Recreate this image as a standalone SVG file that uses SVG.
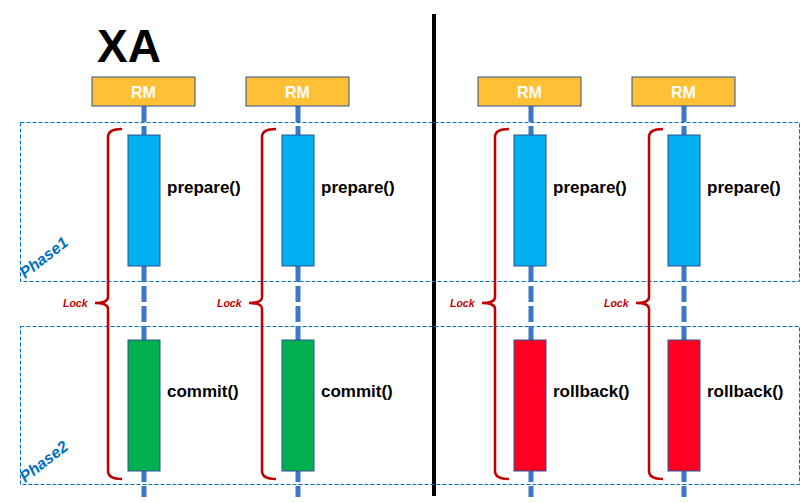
<svg xmlns="http://www.w3.org/2000/svg" width="800" height="503" viewBox="0 0 800 503">
<style>
.phase{fill:none;stroke:#0070C0;stroke-width:1;stroke-dasharray:4 2}
.life{stroke:#3C78C8;stroke-width:5;stroke-dasharray:16 4}
.rm rect{fill:#FFC035;stroke:#2F528F;stroke-width:1}
.rm text{font-family:"Liberation Sans",Arial,sans-serif;font-weight:bold;font-size:16px;fill:#fff;text-anchor:middle}
.bar{stroke:#2F528F;stroke-width:1}
.lbl{font-family:"Liberation Sans",Arial,sans-serif;font-weight:bold;font-size:17px;fill:#000}
.brace{fill:none;stroke:#C00000;stroke-width:2.5}
.lock{font-family:"Liberation Sans",Arial,sans-serif;font-weight:bold;font-style:italic;font-size:10.5px;fill:#C00000}
.ph{font-family:"Liberation Sans",Arial,sans-serif;font-weight:bold;font-style:italic;font-size:16px;fill:#0070C0}
</style>
<rect width="800" height="503" fill="#fff"/>
<text x="97" y="62" font-family="Liberation Sans,Arial,sans-serif" font-weight="bold" font-size="46">XA</text>
<line x1="434" y1="14" x2="434" y2="496" stroke="#000" stroke-width="4"/>
<rect class="phase" x="20.5" y="122.5" width="779" height="159"/>
<rect class="phase" x="20.5" y="326.5" width="779" height="158"/>
<text class="ph" transform="translate(25,279) rotate(-38)">Phase1</text>
<text class="ph" transform="translate(25,483) rotate(-38)">Phase2</text>
<g id="connectors">
<line class="life" x1="144" y1="106" x2="144" y2="497"/>
<line class="life" x1="298" y1="106" x2="298" y2="497"/>
<line class="life" x1="531" y1="106" x2="531" y2="497"/>
<line class="life" x1="684" y1="106" x2="684" y2="497"/>
</g>
<g id="col1">
<g class="rm"><rect x="92" y="77" width="103" height="29"/><text x="143.5" y="97.5">RM</text></g>
<rect class="bar" x="128" y="135" width="32" height="131" fill="#00B0F0"/>
<rect class="bar" x="128" y="340" width="32" height="131" fill="#00B050"/>
<text class="lbl" x="167" y="193">prepare()</text>
<text class="lbl" x="167" y="397">commit()</text>
<path class="brace" d="M122,129 Q108,129 108,137 L108,297 Q108,303 95,303 Q108,303 108,309 L108,471 Q108,479 122,479"/>
<text class="lock" x="63" y="307">Lock</text>
</g>
<g id="col2">
<g class="rm"><rect x="246" y="77" width="103" height="29"/><text x="297.5" y="97.5">RM</text></g>
<rect class="bar" x="282" y="135" width="32" height="131" fill="#00B0F0"/>
<rect class="bar" x="282" y="340" width="32" height="131" fill="#00B050"/>
<text class="lbl" x="321" y="193">prepare()</text>
<text class="lbl" x="321" y="397">commit()</text>
<path class="brace" d="M276,129 Q262,129 262,137 L262,297 Q262,303 249,303 Q262,303 262,309 L262,471 Q262,479 276,479"/>
<text class="lock" x="217" y="307">Lock</text>
</g>
<g id="col3">
<g class="rm"><rect x="478" y="77" width="103" height="29"/><text x="529.5" y="97.5">RM</text></g>
<rect class="bar" x="514" y="135" width="32" height="131" fill="#00B0F0"/>
<rect class="bar" x="514" y="340" width="32" height="131" fill="#FF0022"/>
<text class="lbl" x="553" y="193">prepare()</text>
<text class="lbl" x="553" y="397">rollback()</text>
<path class="brace" d="M509,129 Q495,129 495,137 L495,297 Q495,303 482,303 Q495,303 495,309 L495,471 Q495,479 509,479"/>
<text class="lock" x="450" y="307">Lock</text>
</g>
<g id="col4">
<g class="rm"><rect x="632" y="77" width="103" height="29"/><text x="683.5" y="97.5">RM</text></g>
<rect class="bar" x="668" y="135" width="32" height="131" fill="#00B0F0"/>
<rect class="bar" x="668" y="340" width="32" height="131" fill="#FF0022"/>
<text class="lbl" x="707" y="193">prepare()</text>
<text class="lbl" x="707" y="397">rollback()</text>
<path class="brace" d="M663,129 Q649,129 649,137 L649,297 Q649,303 636,303 Q649,303 649,309 L649,471 Q649,479 663,479"/>
<text class="lock" x="604" y="307">Lock</text>
</g>
</svg>
